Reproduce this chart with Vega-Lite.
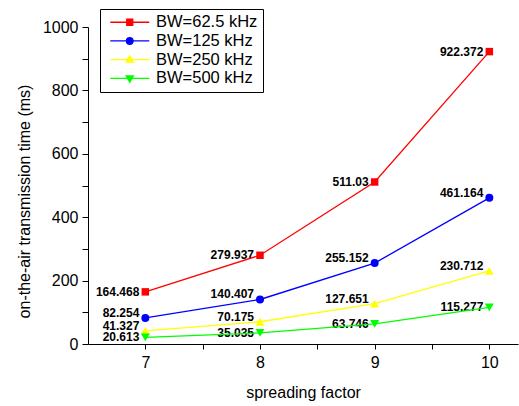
{
  "$schema": "https://vega.github.io/schema/vega-lite/v6.json",
  "width": 430,
  "height": 317,
  "autosize": {"type": "none"},
  "padding": {"left": 88, "top": 27, "right": 1, "bottom": 62},
  "config": {
    "view": {"stroke": null},
    "font": "Liberation Sans",
    "axis": {
      "grid": false,
      "domainColor": "#000",
      "tickColor": "#000",
      "labelColor": "#000",
      "titleColor": "#000",
      "labelFontSize": 16,
      "titleFontSize": 16,
      "titleFontWeight": "normal",
      "labelFont": "Liberation Sans",
      "titleFont": "Liberation Sans"
    }
  },
  "data": {
    "values": [
      {"sf": 7, "bw": "BW=62.5 kHz", "t": 164.468},
      {"sf": 8, "bw": "BW=62.5 kHz", "t": 279.937},
      {"sf": 9, "bw": "BW=62.5 kHz", "t": 511.03},
      {"sf": 10, "bw": "BW=62.5 kHz", "t": 922.372},
      {"sf": 7, "bw": "BW=125 kHz", "t": 82.254},
      {"sf": 8, "bw": "BW=125 kHz", "t": 140.407},
      {"sf": 9, "bw": "BW=125 kHz", "t": 255.152},
      {"sf": 10, "bw": "BW=125 kHz", "t": 461.164},
      {"sf": 7, "bw": "BW=250 kHz", "t": 41.327},
      {"sf": 8, "bw": "BW=250 kHz", "t": 70.175},
      {"sf": 9, "bw": "BW=250 kHz", "t": 127.651},
      {"sf": 10, "bw": "BW=250 kHz", "t": 230.712},
      {"sf": 7, "bw": "BW=500 kHz", "t": 20.613},
      {"sf": 8, "bw": "BW=500 kHz", "t": 35.035},
      {"sf": 9, "bw": "BW=500 kHz", "t": 63.746},
      {"sf": 10, "bw": "BW=500 kHz", "t": 115.277}
    ]
  },
  "encoding": {
    "x": {
      "field": "sf",
      "type": "quantitative",
      "scale": {"domain": [6.5, 10.25], "nice": false, "zero": false},
      "axis": {
        "title": "spreading factor",
        "values": [7, 7.5, 8, 8.5, 9, 9.5, 10],
        "labelExpr": "datum.value % 1 === 0 ? format(datum.value, 'd') : ''",
        "tickSize": 5,
        "labelPadding": 5,
        "titlePadding": 14,
        "encode": {"ticks": {"update": {"y2": {"signal": "datum.value % 1 === 0 ? 5 : 3"}}}}
      }
    },
    "y": {
      "field": "t",
      "type": "quantitative",
      "scale": {"domain": [0, 1000], "nice": false},
      "axis": {
        "title": "on-the-air transmission time (ms)",
        "values": [0, 100, 200, 300, 400, 500, 600, 700, 800, 900, 1000],
        "format": "d",
        "labelExpr": "datum.value % 200 === 0 ? datum.label : ''",
        "tickSize": 6,
        "labelPadding": 4,
        "titleX": -64,
        "titleY": 174,
        "titleAngle": -90,
        "titleBaseline": "middle",
        "titleAlign": "center",
        "encode": {"ticks": {"update": {"x2": {"signal": "datum.value % 200 === 0 ? -6 : -3"}}}}
      }
    }
  },
  "layer": [
    {
      "transform": [{"filter": "datum.bw === 'BW=62.5 kHz' || datum.bw === 'BW=500 kHz'"}],
      "mark": {"type": "text", "align": "right", "baseline": "middle", "dx": -6, "dy": 0, "fontWeight": "bold", "fontSize": 12, "font": "Liberation Sans"},
      "encoding": {
        "text": {"field": "t", "type": "quantitative", "format": "~f"},
        "color": {"value": "#000"}
      }
    },
    {
      "transform": [{"filter": "datum.bw === 'BW=125 kHz' || datum.bw === 'BW=250 kHz'"}],
      "mark": {"type": "text", "align": "right", "baseline": "middle", "dx": -6, "dy": -5, "fontWeight": "bold", "fontSize": 12, "font": "Liberation Sans"},
      "encoding": {
        "text": {"field": "t", "type": "quantitative", "format": "~f"},
        "color": {"value": "#000"}
      }
    },
    {
      "mark": {"type": "line", "strokeWidth": 1.3},
      "encoding": {
        "color": {
          "field": "bw",
          "type": "nominal",
          "scale": {
            "domain": ["BW=62.5 kHz", "BW=125 kHz", "BW=250 kHz", "BW=500 kHz"],
            "range": ["#ff0000", "#0000ff", "#ffff00", "#00ff00"]
          },
          "legend": {
            "title": null,
            "orient": "none",
            "legendX": 12,
            "legendY": -18,
            "padding": 5,
            "strokeColor": "#000",
            "labelFontSize": 16.5,
            "labelFont": "Liberation Sans",
            "labelColor": "#000",
            "labelBaseline": "middle",
            "symbolSize": 36,
            "symbolStrokeWidth": 1.3,
            "symbolOffset": 16.5,
            "labelOffset": 18,
            "rowPadding": 1.7,
            "encode": {
              "symbols": {
                "update": {
                  "shape": {"signal": "datum.value === 'BW=62.5 kHz' ? 'M-6.5,0H6.5M-1,-1H1V1H-1Z' : datum.value === 'BW=125 kHz' ? 'M-6.5,0H6.5M-1.1,0A1.1,1.1,0,1,0,1.1,0A1.1,1.1,0,1,0,-1.1,0Z' : datum.value === 'BW=250 kHz' ? 'M-6.5,0H6.5M0,-1.3L1.2,0.8H-1.2Z' : 'M-6.5,0H6.5M0,1.3L1.2,-0.8H-1.2Z'"},
                  "fill": {"scale": "color", "field": "value"},
                  "stroke": {"scale": "color", "field": "value"},
                  "strokeWidth": {"value": 1.3},
                  "size": {"value": 36},
                  "opacity": {"value": 1},
                  "fillOpacity": {"value": 1}
                }
              }
            }
          }
        }
      }
    },
    {
      "transform": [{"filter": "datum.bw === 'BW=62.5 kHz'"}],
      "mark": {"type": "point", "shape": "square", "size": 56, "filled": true, "opacity": 1},
      "encoding": {"color": {"field": "bw", "type": "nominal"}}
    },
    {
      "transform": [{"filter": "datum.bw === 'BW=125 kHz'"}],
      "mark": {"type": "point", "shape": "circle", "size": 64, "filled": true, "opacity": 1},
      "encoding": {"color": {"field": "bw", "type": "nominal"}}
    },
    {
      "transform": [{"filter": "datum.bw === 'BW=250 kHz'"}],
      "mark": {"type": "point", "shape": "triangle-up", "size": 81, "filled": true, "opacity": 1},
      "encoding": {"color": {"field": "bw", "type": "nominal"}}
    },
    {
      "transform": [{"filter": "datum.bw === 'BW=500 kHz'"}],
      "mark": {"type": "point", "shape": "triangle-down", "size": 81, "filled": true, "opacity": 1},
      "encoding": {"color": {"field": "bw", "type": "nominal"}}
    }
  ]
}
